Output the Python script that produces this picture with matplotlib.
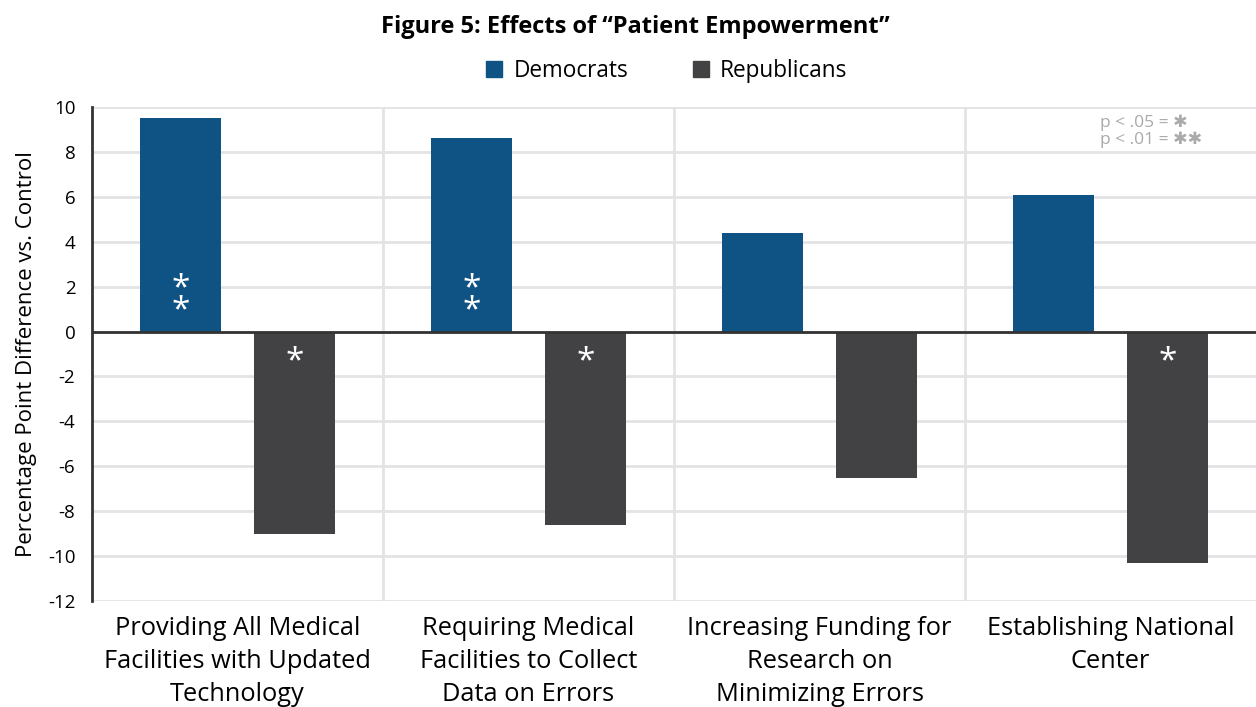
import numpy as np
import matplotlib.pyplot as plt
from matplotlib.patches import Patch

categories = [
    "Providing All Medical\nFacilities with Updated\nTechnology",
    "Requiring Medical\nFacilities to Collect\nData on Errors",
    "Increasing Funding for\nResearch on\nMinimizing Errors",
    "Establishing National\nCenter",
]
democrats = [9.5, 8.6, 4.4, 6.1]
republicans = [-9.0, -8.6, -6.5, -10.3]
dem_sig = ["**", "**", "", ""]
rep_sig = ["*", "*", "", "*"]

yticks = list(range(-12, 11, 2))
blue = "#0f5384"
grey = "#424244"

plt.rcParams['font.family'] = ['Open Sans', 'DejaVu Sans']

fig = plt.figure(figsize=(12.56, 7.07), dpi=100)
ax = fig.add_axes([92 / 1256, 1 - 601 / 707, 1164 / 1256, 494 / 707])

x = np.arange(len(categories))
offset = 0.196
width = 0.278
ax.bar(x - offset, democrats, width, color=blue, zorder=3)
ax.bar(x + offset, republicans, width, color=grey, zorder=3)

# significance stars inside the bars, one per line
for xi, s in zip(x, dem_sig):
    if s:
        ax.text(xi - offset, 1.4, "\n".join(s), color="white", ha="center",
                va="center", fontsize=24, linespacing=0.55, zorder=4)
for xi, s in zip(x, rep_sig):
    if s:
        ax.text(xi + offset, -1.35, "\n".join(s), color="white", ha="center",
                va="center", fontsize=24, linespacing=0.55, zorder=4)

ax.set_xlim(-0.5, len(categories) - 0.5)
ax.set_ylim(-12, 10)
ax.set_yticks(yticks)
ax.set_yticklabels([str(t) for t in yticks], fontsize=13.5)
ax.tick_params(axis='y', length=0, pad=12)
ax.set_xticks(x)
ax.set_xticklabels(categories, fontsize=18.3, linespacing=1.42)
ax.tick_params(axis='x', length=0, pad=11)

for t in yticks:
    ax.axhline(t, color="#e3e3e5", lw=2, zorder=1)
for b in np.arange(0.5, len(categories) - 0.5, 1):
    ax.axvline(b, color="#e3e3e5", lw=2, zorder=1)
ax.axhline(0, color="#333333", lw=2, zorder=5)

for side in ["top", "right", "bottom"]:
    ax.spines[side].set_visible(False)
ax.spines["left"].set_color("#333333")
ax.spines["left"].set_linewidth(2)

ax.set_ylabel("Percentage Point Difference vs. Control", fontsize=16, labelpad=8)

fig.text(0.506, 1 - 27 / 707, "Figure 5: Effects of “Patient Empowerment”",
         ha="center", va="center", fontsize=17, fontweight="bold")

handles = [Patch(color=blue, label="Democrats"), Patch(color=grey, label="Republicans")]
fig.legend(handles=handles, loc="center", bbox_to_anchor=(0.531, 1 - 71 / 707), ncol=2,
           frameon=False, fontsize=16.3, handlelength=0.7, handleheight=0.7,
           columnspacing=2.85, handletextpad=0.5)

ax.text(0.866, 0.985, "p < .05 = ✱\np < .01 = ✱✱", transform=ax.transAxes,
        ha="left", va="top", fontsize=12.5, color="#aaaaaa", linespacing=1.1,
        family=['Open Sans', 'DejaVu Sans'], zorder=6)

fig.savefig("out.png", dpi=100)
